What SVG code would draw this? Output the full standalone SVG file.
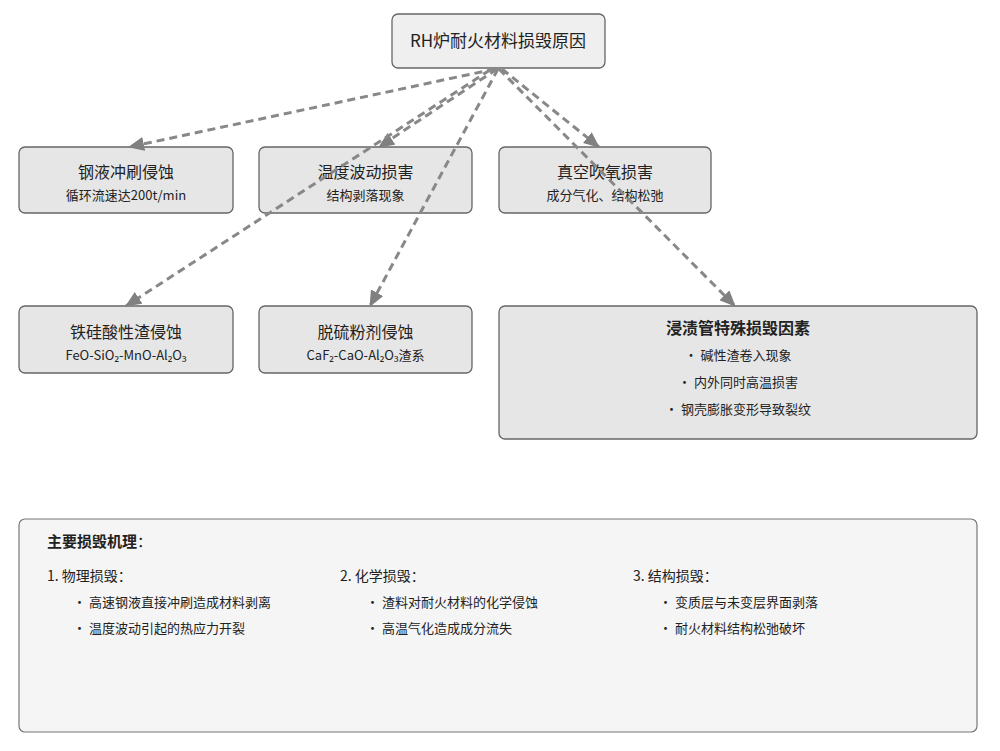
<svg xmlns="http://www.w3.org/2000/svg" width="1000" height="751" viewBox="0 0 1000 751">
<style>
text{font-family:"Noto Sans CJK SC","Noto Sans",sans-serif;fill:#222;}
.box{fill:#e6e6e6;stroke:#666;stroke-width:1.3;}
.root{fill:#efefef;stroke:#666;stroke-width:1.3;}
.panel{fill:#f5f5f5;stroke:#777;stroke-width:1.2;}
.t{font-size:16px;text-anchor:middle;}
.s{font-size:13px;text-anchor:middle;}
.b{font-weight:bold;}
.l{font-size:13px;}
.h{font-size:14px;}
.edge{fill:none;stroke:#888;stroke-width:3;stroke-dasharray:8 5;}
</style>
<defs>
<marker id="arr" viewBox="0 0 16 14" refX="15" refY="7" markerWidth="16" markerHeight="14" markerUnits="userSpaceOnUse" orient="auto">
<path d="M0,0 L16,7 L0,14 Z" fill="#808080"/>
</marker>
</defs>
<g id="root">
<rect class="root" x="392" y="14" width="213" height="54" rx="6"/>
<text x="498" y="47" style="font-size:17px;text-anchor:middle">RH炉耐火材料损毁原因</text>
</g>
<g id="n1">
<rect class="box" x="19" y="147" width="214" height="66" rx="6"/>
<text class="t" x="126" y="178">钢液冲刷侵蚀</text>
<text class="s" x="126" y="200">循环流速达200t/min</text>
</g>
<g id="n2">
<rect class="box" x="259" y="147" width="213" height="66" rx="6"/>
<text class="t" x="365.5" y="178">温度波动损害</text>
<text class="s" x="365.5" y="200">结构剥落现象</text>
</g>
<g id="n3">
<rect class="box" x="499" y="147" width="212" height="66" rx="6"/>
<text class="t" x="605" y="178">真空吹氧损害</text>
<text class="s" x="605" y="200">成分气化、结构松弛</text>
</g>
<g id="n4">
<rect class="box" x="19" y="306" width="214" height="67" rx="6"/>
<text class="t" x="126" y="338">铁硅酸性渣侵蚀</text>
<text class="s" x="126" y="360">FeO-SiO₂-MnO-Al₂O₃</text>
</g>
<g id="n5">
<rect class="box" x="259" y="306" width="213" height="67" rx="6"/>
<text class="t" x="365.5" y="338">脱硫粉剂侵蚀</text>
<text class="s" x="365.5" y="360">CaF₂-CaO-Al₂O₃渣系</text>
</g>
<g id="n6">
<rect class="box" x="499" y="306" width="478" height="133" rx="6"/>
<text class="t b" x="738" y="334">浸渍管特殊损毁因素</text>
<text class="s" x="738" y="360">• 碱性渣卷入现象</text>
<text class="s" x="738" y="387">• 内外同时高温损害</text>
<text class="s" x="738" y="414">• 钢壳膨胀变形导致裂纹</text>
</g>
<g id="mechanism">
<rect class="panel" x="19" y="519" width="958" height="213" rx="6"/>
<text x="47" y="547" style="font-size:15px"><tspan font-weight="bold">主要损毁机理</tspan>：</text>
<text class="h" x="47" y="581">1. 物理损毁：</text>
<text class="l" x="73" y="607">• 高速钢液直接冲刷造成材料剥离</text>
<text class="l" x="73" y="633">• 温度波动引起的热应力开裂</text>
<text class="h" x="340" y="581">2. 化学损毁：</text>
<text class="l" x="366" y="607">• 渣料对耐火材料的化学侵蚀</text>
<text class="l" x="366" y="633">• 高温气化造成成分流失</text>
<text class="h" x="633" y="581">3. 结构损毁：</text>
<text class="l" x="659" y="607">• 变质层与未变层界面剥落</text>
<text class="l" x="659" y="633">• 耐火材料结构松弛破坏</text>
</g>
<g id="connectors">
<path class="edge" d="M495,69 L129,147" marker-end="url(#arr)"/>
<path class="edge" d="M497,69 L379,147" marker-end="url(#arr)"/>
<path class="edge" d="M490,70 L126,306" marker-end="url(#arr)"/>
<path class="edge" d="M498,69 L370,306" marker-end="url(#arr)"/>
<path class="edge" d="M502,69 L599,147" marker-end="url(#arr)"/>
<path class="edge" d="M499,69 L735,306" marker-end="url(#arr)"/>
</g>
</svg>
